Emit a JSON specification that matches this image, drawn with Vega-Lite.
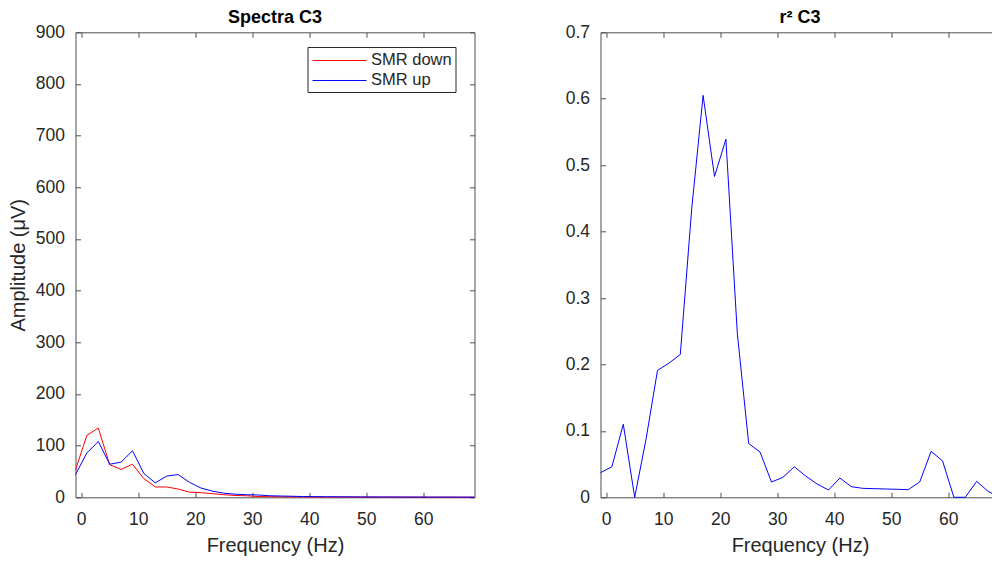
{
  "$schema": "https://vega.github.io/schema/vega-lite/v6.json",
  "background": "white",
  "padding": {"left": 7.5, "top": 9.3, "right": 0, "bottom": 0},
  "datasets": {
    "spectra": [
      {"freq": -1, "amp": 53, "cond": "SMR down"}, {"freq": 1, "amp": 120, "cond": "SMR down"}, {"freq": 3, "amp": 134, "cond": "SMR down"}, {"freq": 5, "amp": 63, "cond": "SMR down"}, {"freq": 7, "amp": 54, "cond": "SMR down"}, {"freq": 9, "amp": 64, "cond": "SMR down"}, {"freq": 11, "amp": 36, "cond": "SMR down"}, {"freq": 13, "amp": 20, "cond": "SMR down"}, {"freq": 15, "amp": 20, "cond": "SMR down"}, {"freq": 17, "amp": 16, "cond": "SMR down"}, {"freq": 19, "amp": 10, "cond": "SMR down"}, {"freq": 21, "amp": 9, "cond": "SMR down"}, {"freq": 23, "amp": 7, "cond": "SMR down"}, {"freq": 25, "amp": 5, "cond": "SMR down"}, {"freq": 27, "amp": 3.5, "cond": "SMR down"}, {"freq": 29, "amp": 3, "cond": "SMR down"}, {"freq": 31, "amp": 1.5, "cond": "SMR down"}, {"freq": 33, "amp": 1.2, "cond": "SMR down"}, {"freq": 35, "amp": 1, "cond": "SMR down"}, {"freq": 37, "amp": 0.8, "cond": "SMR down"}, {"freq": 39, "amp": 0.7, "cond": "SMR down"}, {"freq": 41, "amp": 0.6, "cond": "SMR down"}, {"freq": 43, "amp": 0.5, "cond": "SMR down"}, {"freq": 45, "amp": 0.4, "cond": "SMR down"}, {"freq": 47, "amp": 0.4, "cond": "SMR down"}, {"freq": 49, "amp": 0.3, "cond": "SMR down"}, {"freq": 51, "amp": 0.3, "cond": "SMR down"}, {"freq": 53, "amp": 0.3, "cond": "SMR down"}, {"freq": 55, "amp": 0.3, "cond": "SMR down"}, {"freq": 57, "amp": 0.3, "cond": "SMR down"}, {"freq": 59, "amp": 0.2, "cond": "SMR down"}, {"freq": 61, "amp": 0.2, "cond": "SMR down"}, {"freq": 63, "amp": 0.2, "cond": "SMR down"}, {"freq": 65, "amp": 0.2, "cond": "SMR down"}, {"freq": 67, "amp": 0.2, "cond": "SMR down"}, {"freq": 69, "amp": 0.2, "cond": "SMR down"},
      {"freq": -1, "amp": 44, "cond": "SMR up"}, {"freq": 1, "amp": 86, "cond": "SMR up"}, {"freq": 3, "amp": 108, "cond": "SMR up"}, {"freq": 5, "amp": 64, "cond": "SMR up"}, {"freq": 7, "amp": 68, "cond": "SMR up"}, {"freq": 9, "amp": 90, "cond": "SMR up"}, {"freq": 11, "amp": 46, "cond": "SMR up"}, {"freq": 13, "amp": 28, "cond": "SMR up"}, {"freq": 15, "amp": 41, "cond": "SMR up"}, {"freq": 17, "amp": 44, "cond": "SMR up"}, {"freq": 19, "amp": 29, "cond": "SMR up"}, {"freq": 21, "amp": 18, "cond": "SMR up"}, {"freq": 23, "amp": 12, "cond": "SMR up"}, {"freq": 25, "amp": 8, "cond": "SMR up"}, {"freq": 27, "amp": 6, "cond": "SMR up"}, {"freq": 29, "amp": 5, "cond": "SMR up"}, {"freq": 31, "amp": 4.5, "cond": "SMR up"}, {"freq": 33, "amp": 3, "cond": "SMR up"}, {"freq": 35, "amp": 2.5, "cond": "SMR up"}, {"freq": 37, "amp": 2, "cond": "SMR up"}, {"freq": 39, "amp": 1.5, "cond": "SMR up"}, {"freq": 41, "amp": 1.3, "cond": "SMR up"}, {"freq": 43, "amp": 1.1, "cond": "SMR up"}, {"freq": 45, "amp": 1, "cond": "SMR up"}, {"freq": 47, "amp": 0.9, "cond": "SMR up"}, {"freq": 49, "amp": 0.8, "cond": "SMR up"}, {"freq": 51, "amp": 0.7, "cond": "SMR up"}, {"freq": 53, "amp": 0.6, "cond": "SMR up"}, {"freq": 55, "amp": 0.6, "cond": "SMR up"}, {"freq": 57, "amp": 0.5, "cond": "SMR up"}, {"freq": 59, "amp": 0.5, "cond": "SMR up"}, {"freq": 61, "amp": 0.4, "cond": "SMR up"}, {"freq": 63, "amp": 0.4, "cond": "SMR up"}, {"freq": 65, "amp": 0.4, "cond": "SMR up"}, {"freq": 67, "amp": 0.3, "cond": "SMR up"}, {"freq": 69, "amp": 0.3, "cond": "SMR up"}
    ],
    "r2": [
      {"freq": -1, "r2": 0.037}, {"freq": 1, "r2": 0.046}, {"freq": 3, "r2": 0.110}, {"freq": 5, "r2": 0.0}, {"freq": 7, "r2": 0.088}, {"freq": 9, "r2": 0.191}, {"freq": 11, "r2": 0.202}, {"freq": 13, "r2": 0.215}, {"freq": 15, "r2": 0.434}, {"freq": 17, "r2": 0.605}, {"freq": 19, "r2": 0.483}, {"freq": 21, "r2": 0.539}, {"freq": 23, "r2": 0.247}, {"freq": 25, "r2": 0.081}, {"freq": 27, "r2": 0.068}, {"freq": 29, "r2": 0.023}, {"freq": 31, "r2": 0.030}, {"freq": 33, "r2": 0.046}, {"freq": 35, "r2": 0.032}, {"freq": 37, "r2": 0.020}, {"freq": 39, "r2": 0.011}, {"freq": 41, "r2": 0.029}, {"freq": 43, "r2": 0.016}, {"freq": 45, "r2": 0.0135}, {"freq": 47, "r2": 0.013}, {"freq": 49, "r2": 0.0125}, {"freq": 51, "r2": 0.012}, {"freq": 53, "r2": 0.0115}, {"freq": 55, "r2": 0.023}, {"freq": 57, "r2": 0.069}, {"freq": 59, "r2": 0.055}, {"freq": 61, "r2": 0.0}, {"freq": 63, "r2": 0.0}, {"freq": 65, "r2": 0.024}, {"freq": 67, "r2": 0.009}, {"freq": 69, "r2": 0.0}
    ]
  },
  "spacing": 126,
  "bounds": "flush",
  "hconcat": [
    {
      "width": 399,
      "height": 465,
      "title": {"text": "Spectra C3", "frame": "group", "offset": -4},
      "layer": [
        {
          "data": {"name": "spectra"},
          "mark": {"type": "line", "strokeWidth": 1},
          "encoding": {
            "x": {"field": "freq", "type": "quantitative", "scale": {"domain": [-1, 69], "nice": false, "zero": false},
                  "axis": {"orient": "bottom", "values": [0, 10, 20, 30, 40, 50, 60], "title": "Frequency (Hz)"}},
            "y": {"field": "amp", "type": "quantitative", "scale": {"domain": [0, 900], "nice": false},
                  "axis": {"orient": "left", "values": [0, 100, 200, 300, 400, 500, 600, 700, 800, 900], "title": "Amplitude (μV)"}},
            "color": {"field": "cond", "type": "nominal",
                      "scale": {"domain": ["SMR down", "SMR up"], "range": ["#ff0000", "#0000ff"]},
                      "legend": {"orient": "none", "legendX": 232, "legendY": 14.7, "title": null,
                                 "symbolType": "M-2.7,0H2.7", "symbolSize": 400, "symbolStrokeWidth": 1,
                                 "symbolOffset": 18.5, "labelOffset": 21, "padding": 3, "rowPadding": 1,
                                 "labelFontSize": 16.5, "labelColor": "#262626", "labelFont": "Liberation Sans",
                                 "strokeColor": "#262626", "fillColor": "white"}}
          }
        },
        {
          "data": {"name": "spectra"},
          "mark": {"type": "line", "opacity": 0},
          "encoding": {
            "x": {"field": "freq", "type": "quantitative", "axis": {"orient": "top", "values": [0, 10, 20, 30, 40, 50, 60], "labels": false, "title": null}},
            "y": {"field": "amp", "type": "quantitative", "axis": {"orient": "right", "values": [0, 100, 200, 300, 400, 500, 600, 700, 800, 900], "labels": false, "title": null}}
          }
        }
      ],
      "resolve": {"axis": {"x": "independent", "y": "independent"}}
    },
    {
      "width": 399,
      "height": 465,
      "title": {"text": "r² C3", "frame": "group", "offset": -4},
      "layer": [
        {
          "data": {"name": "r2"},
          "mark": {"type": "line", "strokeWidth": 1, "color": "#0000ff"},
          "encoding": {
            "x": {"field": "freq", "type": "quantitative", "scale": {"domain": [-1, 69], "nice": false, "zero": false},
                  "axis": {"orient": "bottom", "values": [0, 10, 20, 30, 40, 50, 60], "title": "Frequency (Hz)"}},
            "y": {"field": "r2", "type": "quantitative", "scale": {"domain": [0, 0.7], "nice": false},
                  "axis": {"orient": "left", "values": [0, 0.1, 0.2, 0.3, 0.4, 0.5, 0.6, 0.7], "format": ".1~f", "title": null}}
          }
        },
        {
          "data": {"name": "r2"},
          "mark": {"type": "line", "opacity": 0},
          "encoding": {
            "x": {"field": "freq", "type": "quantitative", "axis": {"orient": "top", "values": [0, 10, 20, 30, 40, 50, 60], "labels": false, "title": null}},
            "y": {"field": "r2", "type": "quantitative", "axis": {"orient": "right", "values": [0, 0.1, 0.2, 0.3, 0.4, 0.5, 0.6, 0.7], "labels": false, "title": null}}
          }
        }
      ],
      "resolve": {"axis": {"x": "independent", "y": "independent"}}
    }
  ],
  "config": {
    "font": "Liberation Sans",
    "view": {"stroke": null},
    "title": {"fontSize": 18, "fontWeight": "bold", "color": "#000000", "font": "Liberation Sans", "anchor": "middle"},
    "axis": {
      "grid": false,
      "domainColor": "#4d4d4d",
      "domainWidth": 1,
      "tickColor": "#4d4d4d",
      "tickWidth": 1,
      "tickSize": -5,
      "labelFont": "Liberation Sans",
      "labelFontSize": 17.5,
      "labelColor": "#262626",
      "titleFont": "Liberation Sans",
      "titleFontSize": 20,
      "titleFontWeight": "normal",
      "titleColor": "#262626"
    },
    "axisX": {"labelPadding": 18, "titlePadding": 8},
    "axisY": {"labelPadding": 16, "titlePadding": 7}
  }
}
